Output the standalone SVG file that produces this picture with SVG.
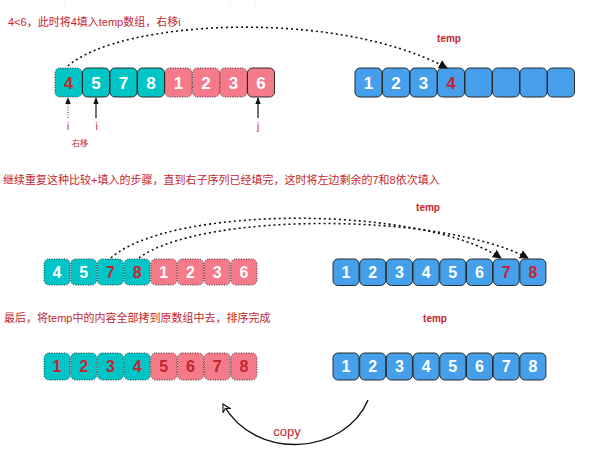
<svg xmlns="http://www.w3.org/2000/svg" width="596" height="456" viewBox="0 0 596 456">
<defs>
<style>
.t{fill:#00C5C6}.p{fill:#F57B8A}.b{fill:#459FEA}
.sol{stroke:#2b2b2b;stroke-width:1}
.dot{stroke:#333;stroke-width:1;stroke-dasharray:1 1.5}
.d{font-family:"Liberation Sans","DejaVu Sans",sans-serif;font-weight:bold;fill:#fff;text-anchor:middle}
.r{fill:#C4262E}
.cap{font-family:"Liberation Sans","Noto Sans CJK SC",sans-serif;fill:#C4262E;font-size:11px}
.tmp{font-family:"Liberation Sans",sans-serif;fill:#C4262E;font-weight:bold;font-size:10px;text-anchor:middle}
.curve{fill:none;stroke:#111;stroke-width:1.6;stroke-dasharray:2 3}
</style>
<marker id="ah" viewBox="0 0 10 10" refX="9" refY="5" markerWidth="9" markerHeight="9" markerUnits="userSpaceOnUse" orient="auto"><path d="M0,0 L10,5 L0,10 z" fill="#111"/></marker>
<marker id="ah2" viewBox="0 0 10 10" refX="9" refY="5" markerWidth="7" markerHeight="7" markerUnits="userSpaceOnUse" orient="auto"><path d="M0,1 L10,5 L0,9 z" fill="#111"/></marker>
<marker id="ao" viewBox="0 0 12 12" refX="10" refY="6" markerWidth="10" markerHeight="10" markerUnits="userSpaceOnUse" orient="auto"><path d="M1,1 L10,6 L1,11 L4,6 z" fill="#fff" stroke="#111" stroke-width="1.3"/></marker>
</defs>

<!-- faint crop remnants -->
<g opacity="0.25" stroke="#999" stroke-width="0.8" stroke-dasharray="1 2">
<line x1="65" y1="0" x2="65" y2="10"/><line x1="230" y1="0" x2="230" y2="11"/><line x1="255" y1="0" x2="255" y2="11"/>
</g>

<!-- captions -->
<text class="cap" x="8" y="26" font-size="11.5">4&lt;6，此时将4填入temp数组，右移i</text>
<text class="cap" x="3" y="184">继续重复这种比较+填入的步骤，直到右子序列已经填完，这时将左边剩余的7和8依次填入</text>
<text class="cap" x="4" y="322">最后，将temp中的内容全部拷到原数组中去，排序完成</text>
<text class="tmp" x="449" y="42">temp</text>
<text class="tmp" x="428" y="211" font-size="9.5">temp</text>
<text class="tmp" x="435" y="322" font-size="9.5">temp</text>

<!-- Row 1 left -->
<g id="row1-left">
<rect class="t dot" x="55" y="68" width="27" height="29" rx="5"/>
<rect class="t sol" x="82.5" y="68" width="27" height="29" rx="5"/>
<rect class="t sol" x="110" y="68" width="27" height="29" rx="5"/>
<rect class="t sol" x="137.5" y="68" width="27" height="29" rx="5"/>
<rect class="p dot" x="165" y="68" width="27" height="29" rx="5"/>
<rect class="p dot" x="192.5" y="68" width="27" height="29" rx="5"/>
<rect class="p dot" x="220" y="68" width="27" height="29" rx="5"/>
<rect class="p sol" x="247.5" y="68" width="27" height="29" rx="5"/>
<g class="d" font-size="17">
<text x="68.5" y="88.5" class="d r" style="fill:#C4262E">4</text>
<text x="96" y="88.5">5</text><text x="123.5" y="88.5">7</text><text x="151" y="88.5">8</text>
<text x="178.5" y="88.5">1</text><text x="206" y="88.5">2</text><text x="233.5" y="88.5">3</text><text x="261" y="88.5">6</text>
</g>
</g>

<!-- Row 1 right (temp) -->
<g id="row1-right">
<rect class="b sol" x="355" y="68" width="27" height="29" rx="5"/>
<rect class="b sol" x="382.5" y="68" width="27" height="29" rx="5"/>
<rect class="b sol" x="410" y="68" width="27" height="29" rx="5"/>
<rect class="b sol" x="437.5" y="68" width="27" height="29" rx="5"/>
<rect class="b sol" x="465" y="68" width="27" height="29" rx="5"/>
<rect class="b sol" x="492.5" y="68" width="27" height="29" rx="5"/>
<rect class="b sol" x="520" y="68" width="27" height="29" rx="5"/>
<rect class="b sol" x="547.5" y="68" width="27" height="29" rx="5"/>
<g class="d" font-size="17">
<text x="368.5" y="88.5">1</text><text x="396" y="88.5">2</text><text x="423.5" y="88.5">3</text>
<text x="451" y="88.5" style="fill:#C4262E">4</text>
</g>
</g>

<!-- pointer labels -->
<g id="pointers">
<text x="68" y="130" font-family="Liberation Sans,sans-serif" font-size="10" fill="#C4262E" text-anchor="middle">i</text>
<text x="96.5" y="130" font-family="Liberation Sans,sans-serif" font-size="10" fill="#C4262E" text-anchor="middle">i</text>
<text x="258" y="130" font-family="Liberation Sans,sans-serif" font-size="10" fill="#C4262E" text-anchor="middle">j</text>
<text x="80" y="146" font-family="Liberation Sans,'Noto Sans CJK SC',sans-serif" font-size="8" fill="#C4262E" text-anchor="middle">右移</text>
</g>

<!-- Row 2 left -->
<g id="row2-left">
<rect class="t dot" x="44" y="259" width="26" height="26" rx="5"/>
<rect class="t dot" x="70.7" y="259" width="26" height="26" rx="5"/>
<rect class="t dot" x="97.4" y="259" width="26" height="26" rx="5"/>
<rect class="t dot" x="124.1" y="259" width="26" height="26" rx="5"/>
<rect class="p dot" x="150.8" y="259" width="26" height="26" rx="5"/>
<rect class="p dot" x="177.5" y="259" width="26" height="26" rx="5"/>
<rect class="p dot" x="204.2" y="259" width="26" height="26" rx="5"/>
<rect class="p dot" x="230.9" y="259" width="26" height="26" rx="5"/>
<g class="d" font-size="16">
<text x="57" y="277.8">4</text><text x="83.7" y="277.8">5</text>
<text x="110.4" y="277.8" style="fill:#C4262E">7</text><text x="137.1" y="277.8" style="fill:#C4262E">8</text>
<text x="163.8" y="277.8">1</text><text x="190.5" y="277.8">2</text><text x="217.2" y="277.8">3</text><text x="243.9" y="277.8">6</text>
</g>
</g>

<!-- Row 2 right -->
<g id="row2-right">
<rect class="b sol" x="333" y="259" width="26" height="26.5" rx="5"/>
<rect class="b sol" x="359.7" y="259" width="26" height="26.5" rx="5"/>
<rect class="b sol" x="386.4" y="259" width="26" height="26.5" rx="5"/>
<rect class="b sol" x="413.1" y="259" width="26" height="26.5" rx="5"/>
<rect class="b sol" x="439.8" y="259" width="26" height="26.5" rx="5"/>
<rect class="b sol" x="466.5" y="259" width="26" height="26.5" rx="5"/>
<rect class="b sol" x="493.2" y="259" width="26" height="26.5" rx="5"/>
<rect class="b sol" x="519.9" y="259" width="26" height="26.5" rx="5"/>
<g class="d" font-size="16">
<text x="346" y="278">1</text><text x="372.7" y="278">2</text><text x="399.4" y="278">3</text><text x="426.1" y="278">4</text>
<text x="452.8" y="278">5</text><text x="479.5" y="278">6</text>
<text x="506.2" y="278" style="fill:#C4262E">7</text><text x="532.9" y="278" style="fill:#C4262E">8</text>
</g>
</g>

<!-- Row 3 left -->
<g id="row3-left">
<rect class="t dot" x="44" y="353" width="26" height="27" rx="5"/>
<rect class="t dot" x="70.7" y="353" width="26" height="27" rx="5"/>
<rect class="t dot" x="97.4" y="353" width="26" height="27" rx="5"/>
<rect class="t dot" x="124.1" y="353" width="26" height="27" rx="5"/>
<rect class="p dot" x="150.8" y="353" width="26" height="27" rx="5"/>
<rect class="p dot" x="177.5" y="353" width="26" height="27" rx="5"/>
<rect class="p dot" x="204.2" y="353" width="26" height="27" rx="5"/>
<rect class="p dot" x="230.9" y="353" width="26" height="27" rx="5"/>
<g class="d" font-size="16" style="fill:#C4262E">
<text x="57" y="372.3" style="fill:#C4262E">1</text><text x="83.7" y="372.3" style="fill:#C4262E">2</text>
<text x="110.4" y="372.3" style="fill:#C4262E">3</text><text x="137.1" y="372.3" style="fill:#C4262E">4</text>
<text x="163.8" y="372.3" style="fill:#C4262E">5</text><text x="190.5" y="372.3" style="fill:#C4262E">6</text>
<text x="217.2" y="372.3" style="fill:#C4262E">7</text><text x="243.9" y="372.3" style="fill:#C4262E">8</text>
</g>
</g>

<!-- Row 3 right -->
<g id="row3-right">
<rect class="b sol" x="333" y="353" width="26" height="27" rx="5"/>
<rect class="b sol" x="359.7" y="353" width="26" height="27" rx="5"/>
<rect class="b sol" x="386.4" y="353" width="26" height="27" rx="5"/>
<rect class="b sol" x="413.1" y="353" width="26" height="27" rx="5"/>
<rect class="b sol" x="439.8" y="353" width="26" height="27" rx="5"/>
<rect class="b sol" x="466.5" y="353" width="26" height="27" rx="5"/>
<rect class="b sol" x="493.2" y="353" width="26" height="27" rx="5"/>
<rect class="b sol" x="519.9" y="353" width="26" height="27" rx="5"/>
<g class="d" font-size="16">
<text x="346" y="372.3">1</text><text x="372.7" y="372.3">2</text><text x="399.4" y="372.3">3</text><text x="426.1" y="372.3">4</text>
<text x="452.8" y="372.3">5</text><text x="479.5" y="372.3">6</text><text x="506.2" y="372.3">7</text><text x="532.9" y="372.3">8</text>
</g>
</g>

<!-- connectors -->
<g id="connectors">
<path class="curve" d="M68,66 C120,20 335,8 447,68" marker-end="url(#ah)"/>
<line x1="68" y1="118" x2="68" y2="98" stroke="#444" stroke-width="1" stroke-dasharray="1 1.5" marker-end="url(#ah2)"/>
<line x1="96" y1="118" x2="96" y2="98" stroke="#111" stroke-width="1.2" marker-end="url(#ah2)"/>
<line x1="258" y1="118" x2="258" y2="98" stroke="#111" stroke-width="1.2" marker-end="url(#ah2)"/>
<path class="curve" d="M111,258 C170,205 420,205 501,258" marker-end="url(#ah)"/>
<path class="curve" d="M139,258 C200,212 440,212 528,258" marker-end="url(#ah)"/>
<path d="M368,400 C345,455 255,462 223,404" fill="none" stroke="#111" stroke-width="1.4" marker-end="url(#ao)"/>
<text x="287" y="436" font-family="Liberation Sans,sans-serif" font-size="13" fill="#C4262E" text-anchor="middle">copy</text>
</g>
</svg>
